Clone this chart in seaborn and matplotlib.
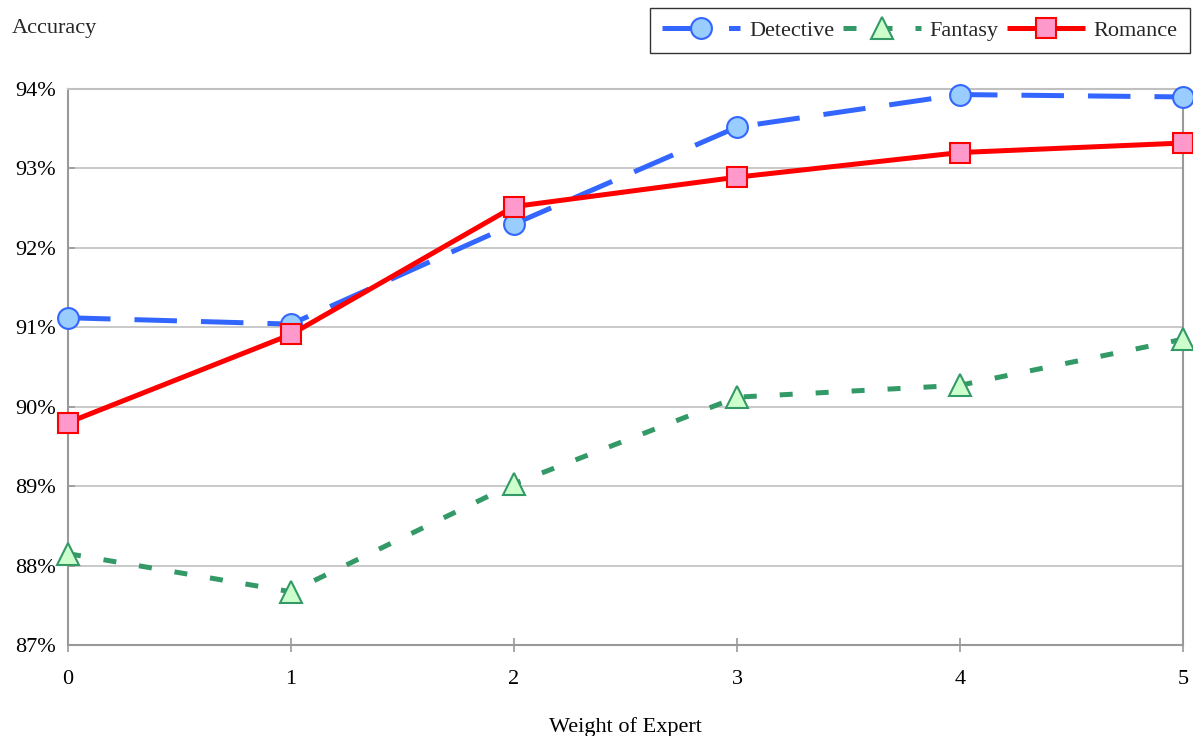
import matplotlib
matplotlib.use("Agg")
import matplotlib.pyplot as plt
import seaborn as sns
import pandas as pd
from matplotlib.ticker import FuncFormatter

weights = [0, 1, 2, 3, 4, 5]
detective = [91.12, 91.04, 92.30, 93.52, 93.93, 93.90]
fantasy = [88.15, 87.67, 89.03, 90.12, 90.27, 90.85]
romance = [89.80, 90.91, 92.52, 92.89, 93.20, 93.32]
series_names = ["Detective", "Fantasy", "Romance"]
y_ticks = [87, 88, 89, 90, 91, 92, 93, 94]

sns.set_theme(style="white")
plt.rcParams["font.family"] = ["Liberation Serif", "DejaVu Serif"]

fig = plt.figure(figsize=(11.93, 7.36), dpi=100)
ax = fig.add_axes([68 / 1193, 1 - 645 / 736, (1183 - 68) / 1193, (645 - 89) / 736])

styles = {
    "Detective": dict(color="#3366FF", mfc="#99CCFF", mec="#3366FF", marker="o", dashes=(8.5, 4.8), ms=15),
    "Fantasy": dict(color="#339966", mfc="#CCFFCC", mec="#339966", marker="^", dashes=(2.6, 4.6), ms=15.5),
    "Romance": dict(color="#FF0000", mfc="#FF99CC", mec="#FF0000", marker="s", dashes=None, ms=14.5),
}

data = {"Detective": detective, "Fantasy": fantasy, "Romance": romance}
for name in series_names:
    df = pd.DataFrame({"w": weights, "acc": data[name]})
    st = styles[name]
    kw = dict(x="w", y="acc", data=df, ax=ax, color=st["color"], lw=3.6,
              marker=st["marker"], markersize=st["ms"], markerfacecolor=st["mfc"],
              markeredgecolor=st["mec"], markeredgewidth=1.5, label=name, clip_on=False,
              zorder=3)
    line = sns.lineplot(**kw).lines[-1]
    line.set_solid_capstyle("butt")
    line.set_dash_capstyle("butt")
    if st["dashes"] is not None:
        line.set_dashes(st["dashes"])

ax.set_xlim(0, 5)
ax.set_ylim(87, 94)
ax.set_xticks(weights)
ax.set_yticks(y_ticks)
ax.yaxis.set_major_formatter(FuncFormatter(lambda v, p: f"{int(round(v))}%"))
ax.grid(axis="y", color="#C0C0C0", lw=1.2)
ax.grid(axis="x", visible=False)
for s in ax.spines.values():
    s.set_visible(True)
    s.set_color("#999999")
    s.set_linewidth(1.5)
ax.spines["top"].set_color("#C0C0C0")
ax.tick_params(axis="x", direction="inout", length=10, color="#999999", width=1.2,
               labelsize=16, pad=13, labelcolor="black", bottom=True)
ax.tick_params(axis="y", direction="in", length=5, color="#999999", width=1.2,
               labelsize=16, pad=9, labelcolor="black", left=True)
ax.set_xlabel("Weight of Expert", fontsize=16, labelpad=20, color="black")
ax.set_ylabel("")
if ax.get_legend() is not None:
    ax.get_legend().remove()

fig.text(12 / 1193, 1 - 28 / 736, "Accuracy", fontsize=16, va="center", ha="left")

handles, labels = ax.get_legend_handles_labels()
leg = fig.legend(handles, labels, loc="lower left",
                 bbox_to_anchor=(650 / 1193, 1 - 53 / 736, 540 / 1193, 43 / 736),
                 mode="expand", ncol=3, fontsize=16, frameon=True, fancybox=False,
                 edgecolor="black", handlelength=3.5, handletextpad=0.4,
                 borderaxespad=0, borderpad=0.55, columnspacing=0.8)
leg.get_frame().set_linewidth(1.0)

fig.savefig("out.png", dpi=100)
